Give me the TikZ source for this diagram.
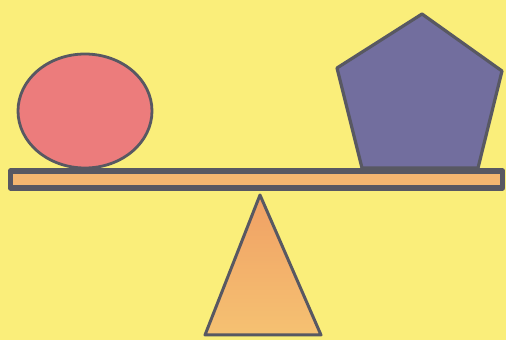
\documentclass[tikz,border=0pt]{standalone}
\usetikzlibrary{backgrounds}
\definecolor{fondo}{RGB}{250,238,122}
\definecolor{rojo}{RGB}{236,124,124}
\definecolor{violeta}{RGB}{114,110,158}
\definecolor{naranja}{RGB}{244,182,112}
\definecolor{naranjaosc}{RGB}{240,160,100}
\definecolor{borde}{RGB}{88,88,98}
\tikzset{
  contorno/.style={draw=borde, line join=round},
  bola/.style={contorno, fill=rojo, line width=1.4mm},
  pentagono/.style={contorno, fill=violeta, line width=1.6mm},
  tabla/.style={contorno, fill=naranja, line width=2.8mm},
  soporte/.style={contorno, line width=1.5mm,
    top color=naranjaosc, bottom color=naranja!80!fondo}
}
\begin{document}
\begin{tikzpicture}[x=0.5mm, y=-0.5mm]

\fill[fondo] (0,0) rectangle (506,340);
\useasboundingbox (0,0) rectangle (506,340);

% fulcro
\draw[soporte] (260,195) -- (321,335) -- (205,335) -- cycle;

% tabla
\draw[tabla] (10.5,171) rectangle (502.5,188);

% pesos
\draw[bola] (85,111) ellipse (67 and 57);
\draw[pentagono] (422,14) -- (502,71) -- (478,168) -- (362,168)
  -- (337,68) -- cycle;

\end{tikzpicture}
\end{document}
